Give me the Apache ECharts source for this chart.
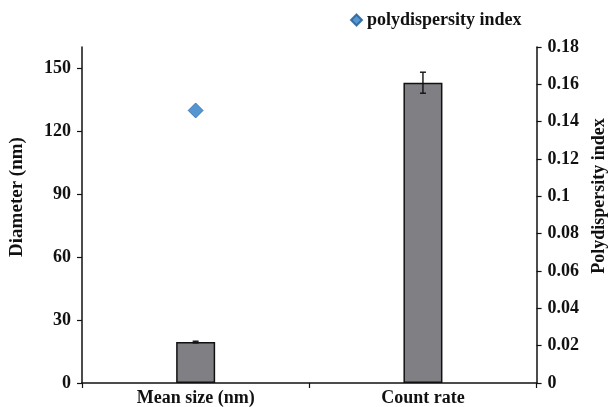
<!DOCTYPE html>
<html>
<head>
<meta charset="utf-8">
<script src="https://cdn.jsdelivr.net/npm/echarts@6/dist/echarts.min.js"></script>
<style>
  html, body { margin: 0; padding: 0; background: #fff; }
  #chart { width: 616px; height: 407px; }
</style>
</head>
<body>
<div id="chart"></div>
<script>
// Measured quantities
var categories = ['Mean size (nm)', 'Count rate'];
var diameterValues = [19.5, 143];
var diameterErrors = [0.4, 5];
var pdiValues = [0.146, null];

// Axis ticks
var diameterTicks = [0, 30, 60, 90, 120, 150];
var pdiTicks = [0, 0.02, 0.04, 0.06, 0.08, 0.1, 0.12, 0.14, 0.16, 0.18];

var FONT = '"Liberation Serif", "Times New Roman", serif';

var errorData = diameterValues.map(function (v, i) {
  return [i, v - diameterErrors[i], v + diameterErrors[i]];
});

var chart = echarts.init(document.getElementById('chart'));
chart.setOption({
  animation: false,
  backgroundColor: '#fff',
  textStyle: { fontFamily: FONT },
  legend: {
    data: [{ name: 'polydispersity index', icon: 'diamond' }],
    left: 345,
    top: 6,
    itemWidth: 11,
    itemHeight: 11,
    itemGap: 6,
    textStyle: { fontFamily: FONT, fontWeight: 'bold', fontSize: 18, color: '#111' }
  },
  grid: { left: 82, right: 75, top: 47, bottom: 24 },
  xAxis: {
    type: 'category',
    data: categories,
    axisLine: { lineStyle: { color: '#111', width: 1.5 } },
    axisTick: { show: true, length: 5, lineStyle: { color: '#111', width: 1.2 } },
    axisLabel: { fontFamily: FONT, fontWeight: 'bold', fontSize: 18, color: '#111', margin: 6 }
  },
  yAxis: [
    {
      type: 'value',
      min: 0,
      max: 160,
      interval: 30,
      name: 'Diameter (nm)',
      nameLocation: 'middle',
      nameGap: 55,
      nameTextStyle: { fontFamily: FONT, fontWeight: 'bold', fontSize: 19, color: '#111', padding: [0, 0, 0, 36] },
      axisLine: { show: true, lineStyle: { color: '#111', width: 1.5 } },
      axisTick: { show: true, length: 5, customValues: diameterTicks, lineStyle: { color: '#111', width: 1.2 } },
      axisLabel: { customValues: diameterTicks, fontFamily: FONT, fontWeight: 'bold', fontSize: 18, color: '#111', margin: 11 },
      splitLine: { show: false }
    },
    {
      type: 'value',
      min: 0,
      max: 0.18,
      interval: 0.02,
      position: 'right',
      name: 'Polydispersity index',
      nameLocation: 'middle',
      nameGap: 50,
      nameRotate: 90,
      nameTextStyle: { fontFamily: FONT, fontWeight: 'bold', fontSize: 18, color: '#111', padding: [0, 0, 0, 38] },
      axisLine: { show: true, lineStyle: { color: '#111', width: 1.5 } },
      axisTick: { show: true, length: 5, lineStyle: { color: '#111', width: 1.2 } },
      axisLabel: {
        fontFamily: FONT, fontWeight: 'bold', fontSize: 18, color: '#111', margin: 11,
        formatter: function (v) { return String(parseFloat(v.toFixed(2))); }
      },
      splitLine: { show: false }
    }
  ],
  series: [
    {
      name: 'diameter',
      type: 'bar',
      yAxisIndex: 0,
      data: diameterValues,
      barWidth: 39,
      itemStyle: { color: '#808084', borderColor: '#111', borderWidth: 1.5 },
      z: 2
    },
    {
      name: 'error',
      type: 'custom',
      yAxisIndex: 0,
      data: errorData,
      z: 5,
      renderItem: function (params, api) {
        var x = api.coord([api.value(0), api.value(1)])[0];
        var lo = api.coord([api.value(0), api.value(1)])[1];
        var hi = api.coord([api.value(0), api.value(2)])[1];
        var cap = 3;
        var style = { stroke: '#111', lineWidth: 1.4 };
        return {
          type: 'group',
          children: [
            { type: 'line', shape: { x1: x, y1: lo, x2: x, y2: hi }, style: style },
            { type: 'line', shape: { x1: x - cap, y1: hi, x2: x + cap, y2: hi }, style: style },
            { type: 'line', shape: { x1: x - cap, y1: lo, x2: x + cap, y2: lo }, style: style }
          ]
        };
      }
    },
    {
      name: 'polydispersity index',
      type: 'scatter',
      yAxisIndex: 1,
      data: pdiValues,
      symbol: 'diamond',
      symbolSize: 15,
      itemStyle: { color: '#2b7bc6', borderColor: '#1d5a94', borderWidth: 0.8 },
      z: 6
    }
  ]
});
</script>
</body>
</html>
